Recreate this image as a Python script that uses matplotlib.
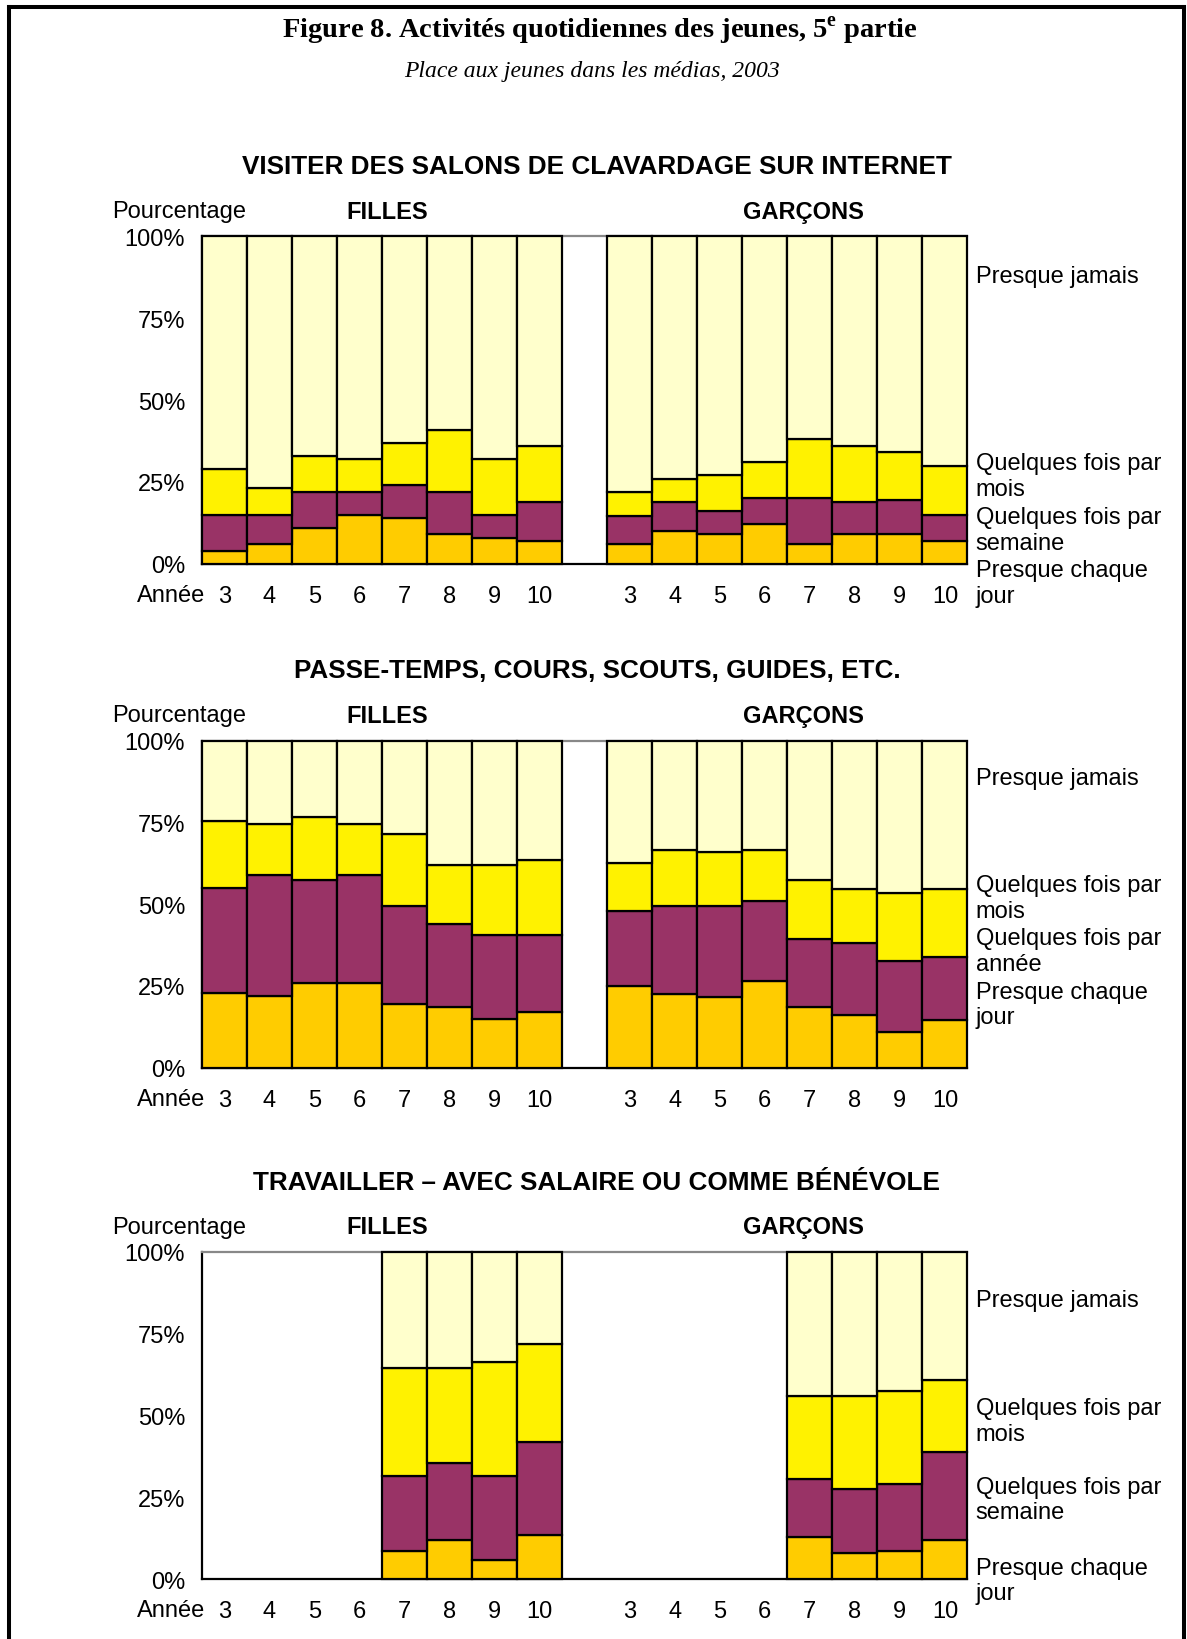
import matplotlib.pyplot as plt
from matplotlib.lines import Line2D

plt.rcParams['font.family'] = ['Liberation Sans', 'DejaVu Sans']
plt.rcParams['mathtext.fontset'] = 'custom'
plt.rcParams['mathtext.rm'] = 'Liberation Serif'

W, H = 1187, 1640

# years shown on each half of a panel
years = [3, 4, 5, 6, 7, 8, 9, 10]
work_years = [7, 8, 9, 10]

# colours, bottom segment first
c_daily = '#FFCC00'
c_mid = '#993366'
c_month = '#FFF200'
c_never = '#FFFFCC'

# --- Chat rooms on the internet ---
chat_f_daily = [4, 6, 11, 15, 14, 9, 8, 7]
chat_f_week = [11, 9, 11, 7, 10, 13, 7, 12]
chat_f_month = [14, 8, 11, 10, 13, 19, 17, 17]
chat_f_never = [71, 77, 67, 68, 63, 59, 68, 64]

chat_g_daily = [6, 10, 9, 12, 6, 9, 9, 7]
chat_g_week = [8.5, 9, 7, 8, 14, 10, 10.5, 8]
chat_g_month = [7.5, 7, 11, 11, 18, 17, 14.5, 15]
chat_g_never = [78, 74, 73, 69, 62, 64, 66, 70]

# --- Hobbies, lessons, scouts ---
hobby_f_daily = [23, 22, 26, 26, 19.5, 18.5, 15, 17]
hobby_f_year = [32, 37, 31.5, 33, 30, 25.5, 25.5, 23.5]
hobby_f_month = [20.5, 15.5, 19, 15.5, 22, 18, 21.5, 23]
hobby_f_never = [24.5, 25.5, 23.5, 25.5, 28.5, 38, 38, 36.5]

hobby_g_daily = [25, 22.5, 21.5, 26.5, 18.5, 16, 11, 14.5]
hobby_g_year = [23, 27, 28, 24.5, 21, 22, 21.5, 19.5]
hobby_g_month = [14.5, 17, 16.5, 15.5, 18, 16.5, 21, 20.5]
hobby_g_never = [37.5, 33.5, 34, 33.5, 42.5, 45.5, 46.5, 45.5]

# --- Work, paid or volunteer (grades 7-10 only) ---
work_f_daily = [8.5, 12, 6, 13.5]
work_f_week = [23, 23.5, 25.5, 28.5]
work_f_month = [33, 29, 35, 30]
work_f_never = [35.5, 35.5, 33.5, 28]

work_g_daily = [13, 8, 8.5, 12]
work_g_week = [17.5, 19.5, 20.5, 27]
work_g_month = [25.5, 28.5, 28.5, 22]
work_g_never = [44, 44, 42.5, 39]


def fx(px):
    return px / W


def fy(py):
    return 1 - py / H


def stack(ax, xs, segments):
    bottom = [0] * len(xs)
    for vals, col in zip(segments, [c_daily, c_mid, c_month, c_never]):
        ax.bar(xs, vals, bottom=bottom, width=1.0, color=col,
               edgecolor='black', linewidth=1.6, clip_on=False, zorder=3)
        bottom = [b + v for b, v in zip(bottom, vals)]


def panel(top_px, title, mid_label, girls, boys, yrs, label_offsets):
    ax_h = 327.3
    ax = fig.add_axes([fx(201.8), fy(top_px + ax_h), 765.6 / W, ax_h / H])
    xs_f = [years.index(y) for y in yrs]
    xs_g = [years.index(y) + 9 for y in yrs]
    stack(ax, xs_f, girls)
    stack(ax, xs_g, boys)

    ax.set_xlim(-0.5, 16.5)
    ax.set_ylim(0, 100)
    ax.set_yticks([0, 25, 50, 75, 100])
    ax.set_yticklabels(['0%', '25%', '50%', '75%', '100%'])
    ax.set_xticks(list(range(8)) + list(range(9, 17)))
    ax.set_xticklabels([str(y) for y in years] * 2)
    ax.tick_params(length=0, labelsize=17)
    ax.tick_params(axis='y', pad=12)
    ax.tick_params(axis='x', pad=15)
    for side in ['left', 'bottom']:
        ax.spines[side].set_linewidth(1.6)
    ax.spines['top'].set_color('#888888')
    ax.spines['top'].set_linewidth(1.6)
    ax.spines['right'].set_visible(False)

    fig.text(fx(597), fy(top_px - 70), title, ha='center', va='center',
             fontsize=18.8, fontweight='bold')
    fig.text(fx(112), fy(top_px - 25), 'Pourcentage', ha='left', va='center',
             fontsize=17)
    fig.text(fx(387), fy(top_px - 25), 'FILLES', ha='center', va='center',
             fontsize=17, fontweight='bold')
    fig.text(fx(803), fy(top_px - 25), 'GARÇONS', ha='center', va='center',
             fontsize=17, fontweight='bold')
    fig.text(fx(205), fy(top_px + ax_h + 31), 'Année', ha='right', va='center',
             fontsize=17)

    labels = ['Presque jamais', 'Quelques fois par\nmois',
              'Quelques fois par\n' + mid_label, 'Presque chaque\njour']
    for lab, off in zip(labels, label_offsets):
        fig.text(fx(975.7), fy(top_px + off), lab, ha='left', va='center',
                 fontsize=17, linespacing=1.2)
    return ax


fig = plt.figure(figsize=(W / 100, H / 100), dpi=100)

fig.text(fx(600), fy(31),
         r'Figure 8. Activités quotidiennes des jeunes, 5$^{\mathregular{e}}$ partie',
         ha='center', va='center', fontsize=20.5, fontweight='bold',
         family='Liberation Serif')
fig.text(fx(592), fy(72), 'Place aux jeunes dans les médias, 2003',
         ha='center', va='center', fontsize=17, style='italic',
         family='Liberation Serif')

panel(237.4, 'VISITER DES SALONS DE CLAVARDAGE SUR INTERNET', 'semaine',
      [chat_f_daily, chat_f_week, chat_f_month, chat_f_never],
      [chat_g_daily, chat_g_week, chat_g_month, chat_g_never],
      years, [39.6, 239.6, 293.6, 346.6])

panel(741.5, 'PASSE-TEMPS, COURS, SCOUTS, GUIDES, ETC.', 'année',
      [hobby_f_daily, hobby_f_year, hobby_f_month, hobby_f_never],
      [hobby_g_daily, hobby_g_year, hobby_g_month, hobby_g_never],
      years, [37.5, 157.5, 210.5, 264])

panel(1252.9, 'TRAVAILLER – AVEC SALAIRE OU COMME BÉNÉVOLE', 'semaine',
      [work_f_daily, work_f_week, work_f_month, work_f_never],
      [work_g_daily, work_g_week, work_g_month, work_g_never],
      work_years, [48, 169, 247.6, 328.6])

# page frame: left, top and right rules
fig.add_artist(Line2D([fx(9), fx(9)], [0, fy(8)], color='black', linewidth=2.9))
fig.add_artist(Line2D([fx(9), fx(1184)], [fy(8), fy(8)], color='black', linewidth=2.9))
fig.add_artist(Line2D([fx(1184), fx(1184)], [0, fy(8)], color='black', linewidth=2.9))

fig.savefig('out.png', dpi=100)
